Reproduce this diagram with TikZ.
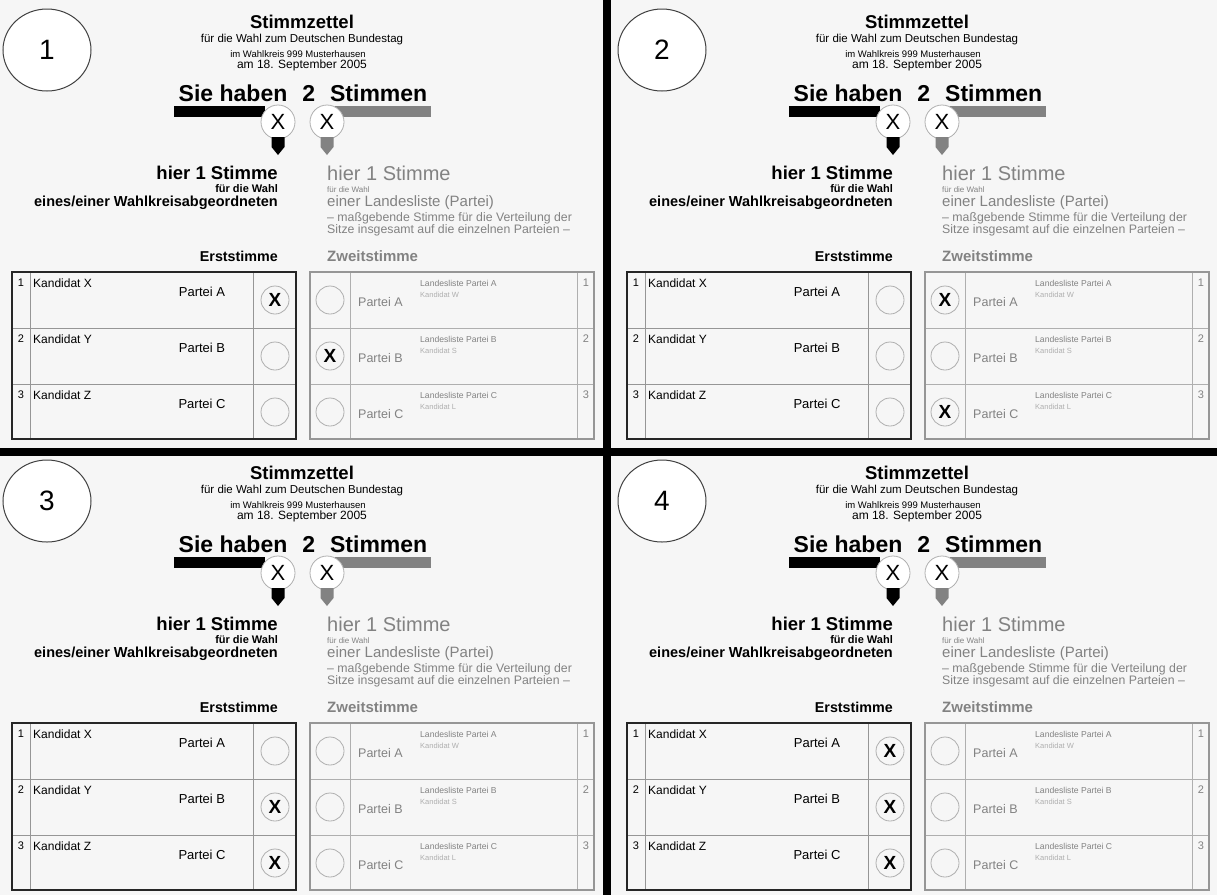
\documentclass[tikz,border=0pt]{standalone}
\usepackage{fontspec}
\setmainfont{Liberation Sans}
\usetikzlibrary{positioning, shapes.geometric}
\definecolor{papier}{RGB}{246,246,246}
\definecolor{zweit}{RGB}{130,130,130}
\definecolor{linie}{RGB}{150,150,150}
\definecolor{hell}{RGB}{175,175,175}

\newcommand{\schrift}[1]{\fontsize{#1}{#1}\selectfont}

% ein Stimmzettel: #1 Name, #2 Nummer, #3 Kreuze
\newcommand{\stimmzettel}[3]{%
  \node[nummer] (#1-nr) at (47,50) {#2};
  % Kopf
  \node[kopf, font=\bfseries\schrift{18.5}] (#1-titel) at (302,22) {Stimmzettel};
  \node[kopf, font=\schrift{11.5}] (#1-wahl) at (302,40) {für die Wahl zum Deutschen Bundestag};
  \node[kopf, font=\schrift{9.5}] (#1-kreis) at (298,54) {im Wahlkreis 999 Musterhausen};
  \node[kopf, font=\schrift{12}] (#1-datum) at (302,65) {am 18. September 2005};
  \node[kopf, font=\bfseries\schrift{23}] (#1-sie) at (303,93) {Sie haben\hspace{15pt}2\hspace{15pt}Stimmen};
  \fill[black] (174,106) rectangle (265,117);
  \fill[zweit] (335,106) rectangle (431,117);
  \node[stimmkreis] (#1-x1) at (278,122) {X};
  \node[stimmkreis] (#1-x2) at (327,122) {X};
  \fill[black] (271.5,137) -- (284.5,137) -- (284.5,147) -- (278,155) -- (271.5,147) -- cycle;
  \fill[zweit] (320.5,137) -- (333.5,137) -- (333.5,147) -- (327,155) -- (320.5,147) -- cycle;
  % Erststimme
  \node[links, font=\bfseries\schrift{18.5}] (#1-hier1) at (278,173) {hier 1 Stimme};
  \node[links, font=\bfseries\schrift{11}] (#1-fuer1) at (278,189) {für die Wahl};
  \node[links, font=\bfseries\schrift{14.5}] (#1-abg) at (278,203) {eines/einer Wahlkreisabgeordneten};
  \node[links, font=\bfseries\schrift{14.3}] (#1-erst) at (278,256) {Erststimme};
  % Zweitstimme
  \node[rechts, font=\schrift{20}] (#1-hier2) at (327,173) {hier 1 Stimme};
  \node[rechts, font=\schrift{8}] (#1-fuer2) at (327,190) {für die Wahl};
  \node[rechts, font=\schrift{15}] (#1-liste) at (327,203) {einer Landesliste (Partei)};
  \node[rechts, font=\schrift{12.3}] (#1-mass1) at (327,218) {– maßgebende Stimme für die Verteilung der};
  \node[rechts, font=\schrift{12.3}] (#1-mass2) at (327,230) {Sitze insgesamt auf die einzelnen Parteien –};
  \node[rechts, font=\bfseries\schrift{15}] (#1-zweit) at (327,256) {Zweitstimme};
  % Tabellen
  \draw[gitter] (30,272) -- (30,439) (253,272) -- (253,439)
    (12,328) -- (296,328) (12,384) -- (296,384);
  \draw[line width=1.8pt, black!85] (12,272) rectangle (296,439);
  \draw[gitter, hell] (350,272) -- (350,439) (577,272) -- (577,439)
    (310,328) -- (594,328) (310,384) -- (594,384);
  \draw[line width=1.8pt, linie] (310,272) rectangle (594,439);
  \foreach \r/\k/\p/\w in {1/X/A/W, 2/Y/B/S, 3/Z/C/L}{
    \pgfmathsetmacro\t{272+56*(\r-1)}
    \node[zelle, font=\schrift{11}] (#1-n\r) at (21,\t+11) {\r};
    \node[zelle, anchor=west, font=\schrift{12}] (#1-k\r) at (33,\t+11) {Kandidat \k};
    \node[zelle, font=\schrift{13}] (#1-p\r) at (202,\t+20) {Partei \p};
    \node[wahlkreis] (#1-e\r) at (275,\t+28) {};
    \node[wahlkreis] (#1-z\r) at (330,\t+28) {};
    \node[zelle, anchor=west, text=zweit, font=\schrift{12.5}] (#1-q\r) at (358,\t+30) {Partei \p};
    \node[zelle, anchor=west, text=zweit, font=\schrift{8.6}] (#1-l\r) at (420,\t+11) {Landesliste Partei \p};
    \node[zelle, anchor=west, text=hell, font=\schrift{7.5}] (#1-w\r) at (420,\t+23) {Kandidat \w};
    \node[zelle, text=zweit, font=\schrift{11}] (#1-m\r) at (586,\t+11) {\r};
  }
  % Kreuze
  \foreach \m in {#3}{
    \node[kreuz] at (#1-\m) {X};
  }
}

\begin{document}
\begin{tikzpicture}[
        x=1pt, y=-1pt,
        nummer/.style={ellipse, draw=black!75, fill=white, line width=1pt,
                       minimum width=88pt, minimum height=82pt, inner sep=0pt,
                       font=\schrift{28}},
        kopf/.style={inner sep=0pt},
        links/.style={inner sep=0pt, anchor=east},
        rechts/.style={inner sep=0pt, anchor=west, text=zweit},
        stimmkreis/.style={circle, draw=hell, fill=white, line width=0.8pt,
                           minimum size=34pt, inner sep=0pt, font=\schrift{22}},
        wahlkreis/.style={circle, draw=hell, line width=0.8pt,
                          minimum size=28pt, inner sep=0pt},
        kreuz/.style={inner sep=0pt, font=\bfseries\schrift{19}},
        zelle/.style={inner sep=0pt},
        gitter/.style={line width=0.8pt, linie},
    ]
    \useasboundingbox (0,0) rectangle (1217,895);
    \fill[papier] (0,0) rectangle (1217,895);

    \stimmzettel{q1}{1}{e1,z2}
    \begin{scope}[shift={(615,0)}]
        \stimmzettel{q2}{2}{z1,z3}
    \end{scope}
    \begin{scope}[shift={(0,451)}]
        \stimmzettel{q3}{3}{e2,e3}
    \end{scope}
    \begin{scope}[shift={(615,451)}]
        \stimmzettel{q4}{4}{e1,e2,e3}
    \end{scope}

    % Trennlinien
    \fill[black] (603,0) rectangle (611,895);
    \fill[black] (0,448) rectangle (1217,456);
\end{tikzpicture}
\end{document}
